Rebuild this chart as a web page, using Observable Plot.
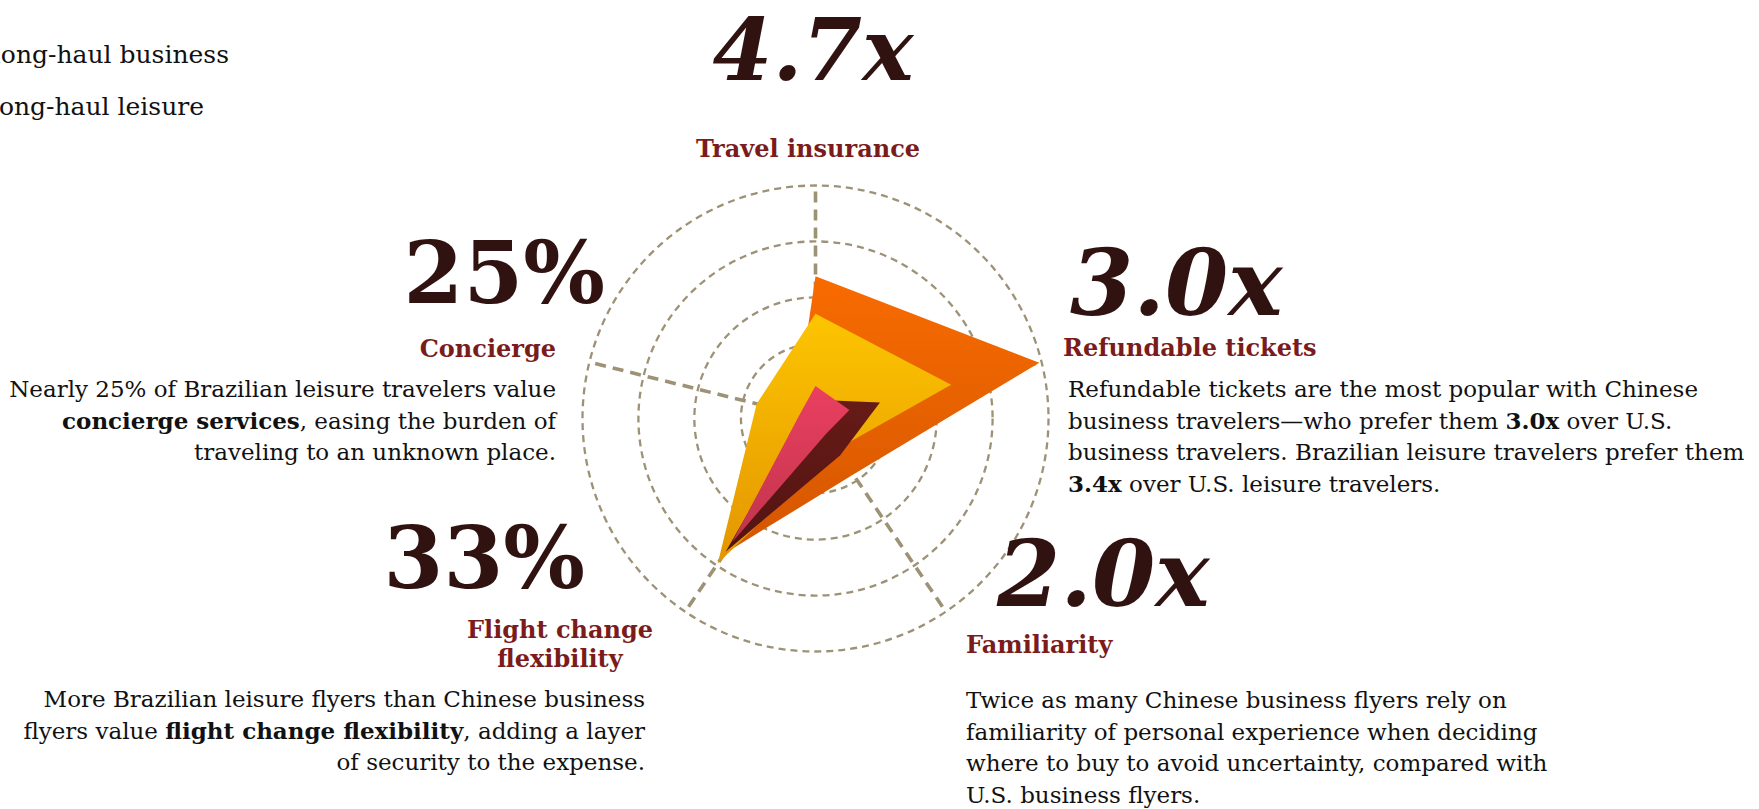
<!DOCTYPE html>
<html>
<head>
<meta charset="utf-8">
<script src="https://cdn.jsdelivr.net/npm/d3@7"></script>
<script src="https://cdn.jsdelivr.net/npm/@observablehq/plot@0.6"></script>
<style>
  html, body { margin: 0; padding: 0; background: #fff; overflow: hidden; }
  #chart { position: relative; width: 1759px; height: 809px; }
</style>
</head>
<body>
<div id="chart"></div>
<script>
// ---------- DATA ----------
const categories = ["Travel insurance", "Refundable tickets", "Familiarity", "Flight change flexibility", "Concierge"];
const series = ["Chinese long-haul business", "Brazilian long-haul leisure", "U.S. long-haul business", "U.S. long-haul leisure"];
// values per category (same order as categories), read as share of the outer ring
const chineseBusiness = [61, 99, 29, 70, 9];
const brazilianLeisure = [45, 60, 16, 75, 26];
const usBusiness = [8, 28.5, 19, 69, 5];
const usLeisure = [14, 15, 8, 64, 7];
const ringLevels = [32, 52, 76, 100];
const highlights = ["4.7x", "3.0x", "2.0x", "33%", "25%"];
const notes = [
  [],
  ["Refundable tickets are the most popular with Chinese",
   "business travelers\u2014who prefer them **3.0x** over U.S.",
   "business travelers. Brazilian leisure travelers prefer them",
   "**3.4x** over U.S. leisure travelers."],
  ["Twice as many Chinese business flyers rely on",
   "familiarity of personal experience when deciding",
   "where to buy to avoid uncertainty, compared with",
   "U.S. business flyers."],
  ["More Brazilian leisure flyers than Chinese business",
   "flyers value **flight change flexibility**, adding a layer",
   "of security to the expense."],
  ["Nearly 25% of Brazilian leisure travelers value",
   "**concierge services**, easing the burden of",
   "traveling to an unknown place."]
];
const labelLines = [["Travel insurance"], ["Refundable tickets"], ["Familiarity"], ["Flight change", "flexibility"], ["Concierge"]];

// ---------- LAYOUT / STYLE ----------
const W = 1759, H = 809;
const CX = 815, CY = 418, R = 233;
const axisAngles = [0, 76, 146, 214, 284]; // degrees clockwise from 12 o'clock
const seriesValues = [chineseBusiness, brazilianLeisure, usBusiness, usLeisure];
const gradients = [
  ["#f86b00", "#d45600"],
  ["#fdc500", "#e39500"],
  ["#661b17", "#531312"],
  ["#ea3f60", "#c1344c"]
];
const FONT = "DejaVu Serif";
const gridColor = "#9d9276";

const rad = a => a * Math.PI / 180;
const px = (v, i) => v * Math.sin(rad(axisAngles[i]));
const py = (v, i) => v * Math.cos(rad(axisAngles[i]));

const rows = [];
seriesValues.forEach((vals, s) => vals.forEach((v, i) => rows.push({series: series[s], s, category: categories[i], i, v})));

const marks = [
  Plot.dot(ringLevels, {x: () => 0, y: () => 0, r: d => d, fill: "none", stroke: gridColor, strokeWidth: 2.3, strokeDasharray: "7,5"}),
  Plot.link(categories, {x1: () => 0, y1: () => 0, x2: (d, i) => px(100, i), y2: (d, i) => py(100, i),
    stroke: gridColor, strokeWidth: 3.6, strokeDasharray: "11,7"})
];
series.forEach((name, s) => {
  marks.push(Plot.line(rows.filter(d => d.s === s), {
    x: d => px(d.v, d.i), y: d => py(d.v, d.i), curve: "linear-closed",
    fill: `url(#grad${s})`, stroke: "none"
  }));
});

const chart = Plot.plot({
  width: W, height: H,
  margin: 0, marginTop: 0, marginRight: 0, marginBottom: 0, marginLeft: 0,
  x: {domain: [-100, 100], range: [CX - R, CX + R], axis: null},
  y: {domain: [-100, 100], range: [CY + R, CY - R], axis: null},
  r: {type: "linear", domain: [0, 100], range: [0, R]},
  style: {background: "transparent", overflow: "visible"},
  marks
});
document.getElementById("chart").appendChild(chart);

const svg = d3.select(chart);
const defs = svg.insert("defs", ":first-child");
gradients.forEach(([a, b], s) => {
  const g = defs.append("linearGradient").attr("id", `grad${s}`).attr("x1", 0).attr("y1", 0).attr("x2", 0).attr("y2", 1);
  g.append("stop").attr("offset", "0%").attr("stop-color", a);
  g.append("stop").attr("offset", "100%").attr("stop-color", b);
});

function addText({x, y, anchor, size, weight = "normal", italic = false, fill, lines, lh}) {
  const t = svg.append("text")
    .attr("x", x).attr("y", y)
    .attr("text-anchor", anchor)
    .attr("font-family", FONT)
    .attr("font-size", size)
    .attr("font-weight", weight)
    .attr("font-style", italic ? "italic" : "normal")
    .attr("fill", fill);
  lines.forEach((line, li) => {
    let first = true;
    line.split("**").forEach((part, j) => {
      if (!part) return;
      const ts = t.append("tspan").text(part);
      if (first) { ts.attr("x", x).attr("dy", li === 0 ? 0 : lh); first = false; }
      if (j % 2 === 1) ts.attr("font-weight", "bold");
    });
  });
}

const bigColor = "#301311", labelColor = "#7b1c1c", bodyColor = "#111";
const LAB = 24, BODY = 23, LH = 31.7;
// per-category annotation layout
const layout = [
  {big: {x: 813, y: 80, anchor: "middle", italic: true, size: 86}, label: {x: 808, y: 157, anchor: "middle"}, body: null},
  {big: {x: 1070, y: 315, anchor: "start", italic: true, size: 91}, label: {x: 1063, y: 356, anchor: "start"}, body: {x: 1068, y: 397, anchor: "start"}},
  {big: {x: 997, y: 606, anchor: "start", italic: true, size: 91}, label: {x: 966, y: 653, anchor: "start"}, body: {x: 966, y: 708, anchor: "start"}},
  {big: {x: 585, y: 588, anchor: "end", italic: false, size: 86}, label: {x: 560, y: 638, anchor: "middle"}, body: {x: 645, y: 707, anchor: "end"}},
  {big: {x: 605, y: 303, anchor: "end", italic: false, size: 86}, label: {x: 556, y: 357, anchor: "end"}, body: {x: 556, y: 397, anchor: "end"}}
];
layout.forEach((L, i) => {
  addText({...L.big, weight: "bold", fill: bigColor, lines: [highlights[i]], lh: 0});
  addText({...L.label, size: LAB, weight: "bold", fill: labelColor, lines: labelLines[i], lh: 29});
  if (L.body) addText({...L.body, size: BODY, fill: bodyColor, lines: notes[i], lh: LH});
});

// legend (partly outside the left edge, as in the reference)
const legendItems = [series[0], series[1]];
legendItems.forEach((name, k) => {
  addText({x: [229, 204][k], y: [63, 115][k], anchor: "end", size: 25, fill: bodyColor, lines: [name], lh: 0});
});
</script>
</body>
</html>
